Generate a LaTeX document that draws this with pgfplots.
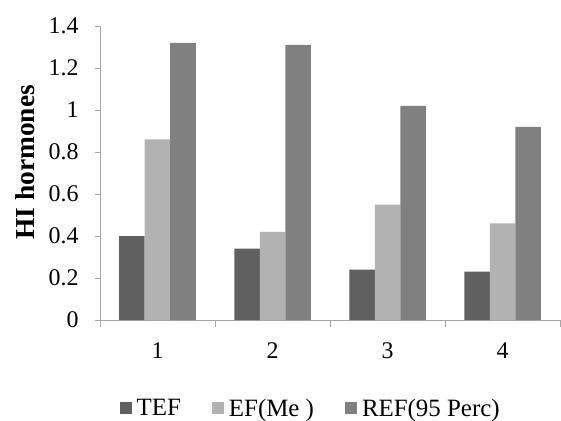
\documentclass[border=0pt]{standalone}
\usepackage{fontspec}
\setmainfont{Liberation Serif}
\usepackage{pgfplots}
\pgfplotsset{compat=1.18}
\definecolor{tefc}{HTML}{606060}
\definecolor{efc}{HTML}{B2B2B2}
\definecolor{refc}{HTML}{808080}
\definecolor{axc}{HTML}{A6A6A6}
\begin{document}
\begin{tikzpicture}
\path[use as bounding box] (-100bp,-101bp) rectangle (461bp,320bp);
\begin{axis}[
    scale only axis,
    width=460bp, height=294bp,
    at={(0,0)}, anchor=south west,
    ybar=0pt, bar width=25.5bp,
    xmin=0.5, xmax=4.5, ymin=0, ymax=1.4,
    xtick={1,2,3,4},
    minor xtick={0.5,1.5,2.5,3.5,4.5},
    ytick={0,0.2,0.4,0.6,0.8,1,1.2,1.4},
    axis x line*=bottom, axis y line*=left,
    axis line style={-, draw=axc},
    tick style={draw=axc},
    tick align=outside,
    major tick length=5bp,
    minor tick length=7bp,
    major x tick style={draw=none},
    /pgf/number format/assume math mode=true,
    tick label style={font=\fontsize{24}{28}\selectfont},
    yticklabel style={/pgf/number format/fixed, xshift=-13bp},
    xticklabel style={yshift=-14bp},
    ylabel={HI hormones},
    ylabel style={font=\fontsize{27.5}{31}\selectfont\bfseries,
        at={(axis description cs:-0.162,0.536)}, anchor=center},
    legend style={draw=none, font=\fontsize{25}{29}\selectfont,
        at={(axis description cs:0.458,-0.30)}, anchor=center,
        legend columns=-1,
        /tikz/every odd column/.append style={column sep=3bp},
        /tikz/every even column/.append style={column sep=29bp}},
    legend image code/.code={\fill[#1] (0bp,-6bp) rectangle (12bp,6bp);},
]
\addplot[fill=tefc, draw=none] coordinates {(1,0.40) (2,0.34) (3,0.24) (4,0.23)};
\addplot[fill=efc, draw=none] coordinates {(1,0.86) (2,0.42) (3,0.55) (4,0.46)};
\addplot[fill=refc, draw=none] coordinates {(1,1.32) (2,1.31) (3,1.02) (4,0.92)};
\legend{TEF, EF(Me ), REF(95 Perc)}
\end{axis}
\end{tikzpicture}
\end{document}
